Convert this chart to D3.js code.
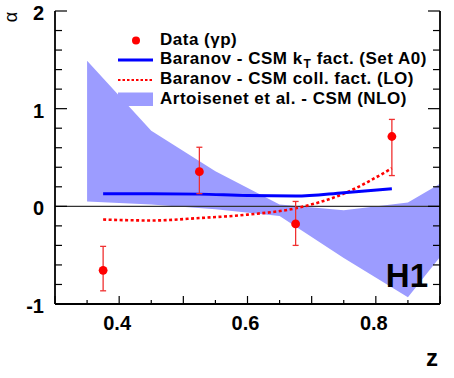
<!DOCTYPE html>
<html>
<head>
<meta charset="utf-8">
<script src="https://cdn.jsdelivr.net/npm/d3@7"></script>
<style>
  body { margin: 0; background: #fff; }
  svg { display: block; font-family: "Liberation Sans", Arial, sans-serif; }
</style>
</head>
<body>
<svg id="draw"></svg>
<script>
// data
var dataZ = [0.375, 0.525, 0.675, 0.825];
var dataAlpha = [-0.655, 0.355, -0.18, 0.715];
var dataErrUp = [0.245, 0.25, 0.23, 0.175];
var dataErrDown = [0.21, 0.225, 0.22, 0.40];

var ktZ = [0.375, 0.45, 0.525, 0.6, 0.675, 0.75, 0.825];
var ktAlpha = [0.13, 0.13, 0.125, 0.11, 0.105, 0.14, 0.18];

var collZ = [0.375, 0.45, 0.525, 0.6, 0.675, 0.75, 0.825];
var collAlpha = [-0.135, -0.145, -0.12, -0.085, -0.02, 0.13, 0.39];

var bandZ = [0.35, 0.45, 0.55, 0.65, 0.75, 0.85, 0.9];
var bandLow = [0.05, 0.02, -0.03, -0.10, -0.53, -0.93, -0.52];
var bandHigh = [1.49, 0.775, 0.36, 0.02, -0.04, 0.04, 0.23];

var xMajor = [0.4, 0.6, 0.8];
var yMajor = [-1, 0, 1, 2];

var legendLabels = ["Data (\u03b3p)", "Baranov - CSM k", "Baranov - CSM coll. fact. (LO)", "Artoisenet et al. - CSM (NLO)"];

var width = 454, height = 378;
var margin = { top: 11, right: 14, bottom: 74, left: 55 };

var svg = d3.select("#draw").attr("width", width).attr("height", height);

var x = d3.scaleLinear().domain([0.3, 0.9]).range([margin.left, width - margin.right]);
var y = d3.scaleLinear().domain([-1, 2]).range([height - margin.bottom, margin.top]);

// band
var band = bandZ.map(function(d, i) { return { z: d, lo: bandLow[i], hi: bandHigh[i] }; });
svg.append("path")
  .datum(band)
  .attr("fill", "#9c9cff")
  .attr("d", d3.area()
    .x(function(d) { return x(d.z); })
    .y0(function(d) { return y(d.lo); })
    .y1(function(d) { return y(d.hi); }));

// zero line
svg.append("line")
  .attr("x1", x(0.3)).attr("x2", x(0.9))
  .attr("y1", y(0)).attr("y2", y(0))
  .attr("stroke", "#333").attr("stroke-width", 1.4);

var line = d3.line()
  .x(function(d) { return x(d[0]); })
  .y(function(d) { return y(d[1]); })
  .curve(d3.curveMonotoneX);

svg.append("path")
  .datum(collZ.map(function(d, i) { return [d, collAlpha[i]]; }))
  .attr("fill", "none").attr("stroke", "#ff0000")
  .attr("stroke-width", 2.6).attr("stroke-dasharray", "3,2.5")
  .attr("d", line);

svg.append("path")
  .datum(ktZ.map(function(d, i) { return [d, ktAlpha[i]]; }))
  .attr("fill", "none").attr("stroke", "#0000ff")
  .attr("stroke-width", 3)
  .attr("d", line);

// data with error bars
var pts = dataZ.map(function(d, i) {
  return { z: d, a: dataAlpha[i], up: dataErrUp[i], dn: dataErrDown[i] };
});
var g = svg.selectAll(".pt").data(pts).enter().append("g").attr("class", "pt");
g.append("line")
  .attr("x1", function(d) { return x(d.z); })
  .attr("x2", function(d) { return x(d.z); })
  .attr("y1", function(d) { return y(d.a + d.up); })
  .attr("y2", function(d) { return y(d.a - d.dn); })
  .attr("stroke", "#f03030").attr("stroke-width", 1.3);
[function(d) { return y(d.a + d.up); }, function(d) { return y(d.a - d.dn); }].forEach(function(fy) {
  g.append("line")
    .attr("x1", function(d) { return x(d.z) - 3; })
    .attr("x2", function(d) { return x(d.z) + 3; })
    .attr("y1", fy).attr("y2", fy)
    .attr("stroke", "#f03030").attr("stroke-width", 1.3);
});
g.append("circle")
  .attr("cx", function(d) { return x(d.z); })
  .attr("cy", function(d) { return y(d.a); })
  .attr("r", 4.4).attr("fill", "#ff0000");

// axes frame
var ax = svg.append("g").attr("stroke", "#000").attr("stroke-width", 1.8);
ax.append("line").attr("x1", x(0.3)).attr("x2", x(0.3)).attr("y1", y(2)).attr("y2", y(-1));
ax.append("line").attr("x1", x(0.9)).attr("x2", x(0.9)).attr("y1", y(2)).attr("y2", y(-1));
ax.append("line").attr("x1", x(0.3)).attr("x2", x(0.9)).attr("y1", y(-1)).attr("y2", y(-1));

var yTicks = d3.range(-1, 2.001, 0.2);
yTicks.forEach(function(v) {
  var major = Math.abs(v - Math.round(v)) < 1e-6;
  var len = major ? 12 : 7;
  ax.append("line").attr("x1", x(0.3)).attr("x2", x(0.3) + len).attr("y1", y(v)).attr("y2", y(v)).attr("stroke-width", 1.2);
  ax.append("line").attr("x1", x(0.9) - len).attr("x2", x(0.9)).attr("y1", y(v)).attr("y2", y(v)).attr("stroke-width", 1.2);
});
var xTicks = d3.range(0.3, 0.9001, 0.05);
xTicks.forEach(function(v) {
  var major = Math.abs(v * 10 - Math.round(v * 10)) < 1e-6;
  var len = major ? 8 : 4;
  ax.append("line").attr("x1", x(v)).attr("x2", x(v)).attr("y1", y(-1)).attr("y2", y(-1) - len).attr("stroke-width", 1.2);
});

// tick labels
svg.selectAll(".xl").data(xMajor).enter().append("text")
  .attr("x", function(d) { return x(d) - 2; })
  .attr("y", y(-1) + 26)
  .attr("text-anchor", "middle")
  .attr("font-size", 20).attr("font-weight", "bold")
  .text(function(d) { return d3.format(".1f")(d); });

svg.selectAll(".yl").data(yMajor).enter().append("text")
  .attr("x", x(0.3) - 11)
  .attr("y", function(d) { return y(d) + 9; })
  .attr("text-anchor", "end")
  .attr("font-size", 20).attr("font-weight", "bold")
  .text(function(d) { return d; });

// axis titles
svg.append("text").attr("x", 432).attr("y", 366)
  .attr("text-anchor", "middle").attr("font-size", 24).attr("font-weight", "bold").text("z");
svg.append("text")
  .attr("transform", "translate(17,17) rotate(-90)")
  .attr("text-anchor", "middle").attr("font-size", 18).text("\u03b1");

svg.append("text").attr("x", 428).attr("y", 287)
  .attr("text-anchor", "end").attr("font-size", 33).attr("font-weight", "bold").text("H1");

// legend
var lg = svg.append("g").attr("font-size", 17).attr("font-weight", "bold").attr("letter-spacing", 0.5);
var ly = [45, 64, 84, 104];
var lx = 160;
lg.append("circle").attr("cx", 136).attr("cy", 40.5).attr("r", 4).attr("fill", "#ff0000");
lg.append("line").attr("x1", 118).attr("x2", 153).attr("y1", 60).attr("y2", 60)
  .attr("stroke", "#0000ff").attr("stroke-width", 3);
lg.append("line").attr("x1", 118).attr("x2", 153).attr("y1", 80).attr("y2", 80)
  .attr("stroke", "#ff0000").attr("stroke-width", 2).attr("stroke-dasharray", "2.5,2");
lg.append("rect").attr("x", 118).attr("y", 92.5).attr("width", 35).attr("height", 13.5).attr("fill", "#9c9cff");

lg.append("text").attr("x", lx).attr("y", ly[0]).text(legendLabels[0]);
var t1 = lg.append("text").attr("x", lx).attr("y", ly[1]);
t1.append("tspan").text(legendLabels[1]);
t1.append("tspan").attr("font-size", 12).attr("dx", 1).attr("dy", 4).text("T");
t1.append("tspan").attr("dy", -4).text(" fact. (Set A0)");
lg.append("text").attr("x", lx).attr("y", ly[2]).text(legendLabels[2]);
lg.append("text").attr("x", lx).attr("y", ly[3]).text(legendLabels[3]);
</script>
</body>
</html>
